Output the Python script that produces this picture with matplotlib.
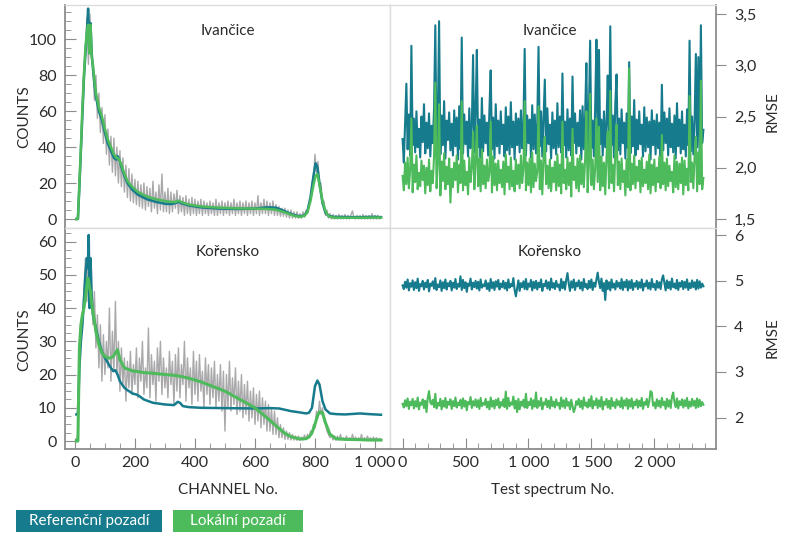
import numpy as np
import matplotlib
matplotlib.use("Agg")
import matplotlib.pyplot as plt
from matplotlib.ticker import MultipleLocator, AutoMinorLocator, FuncFormatter
from matplotlib.patches import Rectangle

plt.rcParams['font.family'] = ['Lato', 'DejaVu Sans']

TEAL = '#167b8c'
GREEN = '#4dba5b'
GRAY = '#a9a9ab'
SPINE = '#8c8c8c'
LIGHT = '#dcdcdc'
TXT = '#2b2b2b'

# ---------------- data ----------------
# Ivančice: raw spectrum, channels 5, 10, ..., 1020
IV_RAW = [0, 0.5, 22, 36, 60, 82, 90, 112, 86, 114, 92, 86, 66, 80, 56, 70, 48, 62, 42, 58,
          36, 50, 30, 46, 26, 45, 24, 40, 20, 38, 18, 34, 15, 30, 12, 28, 10, 25, 9, 22,
          8, 21, 7, 19, 6, 20, 5, 18, 7, 17, 4, 21, 6, 15, 3, 19, 5, 25, 4, 15,
          4, 17, 3, 15, 4, 14, 6, 16, 3, 13, 4, 12, 2, 13, 3, 11, 2, 12, 3, 11,
          2, 10, 3, 11, 2, 10, 3, 9, 2, 10, 3, 9, 2, 11, 2, 9, 3, 10, 2, 9,
          3, 10, 2, 9, 3, 11, 2, 9, 3, 10, 2, 9, 3, 10, 2, 9, 3, 10, 2, 9,
          3, 13, 2, 9, 3, 11, 3, 10, 2, 9, 3, 10, 2, 8, 2, 7, 1.5, 6, 1.5, 6,
          1, 5, 0.5, 5, 0.5, 4, 0.5, 4, 0.5, 3, 0.5, 4, 1, 5, 3, 9, 10, 20, 22, 36,
          26, 32, 18, 20, 8, 10, 2, 5, 0.5, 3, 0, 2.5, 0, 2, 0, 2.5, 0, 2, 0, 2.5,
          0, 2, 0, 2.5, 4.5, 0.5, 0, 2, 0, 2, 0, 2.5, 0, 2, 0, 2, 0, 3, 0, 2,
          0, 2, 0, 1.5]
IV_CH = [5, 10, 15, 20, 25, 30, 35, 40, 44, 48, 52, 56, 60, 65, 70, 80, 90, 100, 110, 120,
         130, 138, 142, 148, 155, 165, 175, 190, 210, 240, 270, 300, 320, 335, 345, 355, 380, 420, 480, 540,
         600, 640, 670, 690, 710, 730, 750, 765, 775, 785, 795, 802, 808, 815, 825, 835, 845, 860, 900, 950,
         1000, 1020]
IV_REF = [0, 0, 18, 38, 58, 78, 92, 104, 117, 100, 109, 92, 84, 75, 68, 60, 55, 48, 42, 38,
          34, 33, 35, 33, 29, 24, 20, 16.5, 13.5, 11, 9.5, 8.5, 8.3, 8.8, 9.6, 8.8, 7.5, 6.5, 5.8, 5.6,
          5.8, 6.5, 6.3, 5.0, 3.5, 2.2, 1.5, 2.0, 4.5, 12, 24, 31, 29, 20, 9, 3.5, 1.8, 1.2, 1.1, 1.0,
          1.2, 1.0]
IV_LOC = [0, 0, 20, 40, 62, 80, 95, 104, 108, 92, 108, 90, 86, 77, 70, 62, 57, 50, 44, 40,
          36, 34, 34, 33, 30, 25, 21, 18, 15, 12.5, 11, 10, 9.5, 9.5, 10.2, 9.4, 8.0, 7.0, 6.3, 5.9,
          5.8, 5.6, 5.2, 4.2, 3.0, 1.8, 1.2, 1.8, 3.8, 10, 19, 24, 25, 19, 10, 4.5, 1.5, 0.8, 0.7, 0.7,
          0.8, 0.8]

# Kořensko: raw spectrum, channels 5, 10, ..., 1020
KO_RAW = [0, 2, 28, 35, 38, 45, 55, 42, 58, 40, 52, 35, 45, 28, 38, 22, 35, 18, 32, 20,
          30, 22, 40, 18, 33, 21, 42, 20, 30, 15, 28, 17, 25, 12, 24, 16, 27, 14, 23, 17,
          28, 13, 25, 18, 30, 14, 22, 16, 34, 13, 26, 17, 24, 12, 28, 18, 30, 14, 25, 16,
          22, 13, 27, 17, 24, 11, 26, 15, 28, 13, 23, 17, 30, 12, 25, 16, 22, 11, 27, 14,
          24, 12, 26, 15, 21, 10, 25, 14, 23, 11, 22, 13, 24, 10, 20, 12, 23, 9, 21, 3,
          20, 10, 24, 9, 19, 11, 22, 8, 18, 9, 20, 7, 17, 8, 18, 6, 15, 7, 16, 5,
          14, 6, 15, 4, 13, 5, 12, 3, 11, 3, 10, 2, 9, 2, 7, 1, 5, 1, 4, 0.5,
          3, 0.5, 2.5, 0.3, 2, 0.3, 1.5, 0.2, 1.5, 0.2, 1.2, 0.3, 1.8, 0.5, 2, 1, 3, 2, 5, 4,
          9, 7, 12, 8, 10, 6, 5, 3, 2, 1, 2, 0.3, 1.5, 0.2, 1.5, 0.2, 2, 0.3, 1, 0.2,
          1.5, 0.2, 1, 0.3, 2, 0.2, 1.2, 0.2, 1, 0.3, 2, 0.2, 1, 0.2, 1.5, 0.2, 1, 0.3, 1.2, 0.2,
          1, 0.2, 0.8, 0.3]
KO_CH = [5, 10, 15, 20, 25, 30, 35, 40, 43, 46, 49, 52, 55, 60, 70, 80, 90, 100, 110, 120,
         128, 135, 142, 150, 165, 180, 195, 205, 215, 230, 260, 300, 330, 343, 350, 360, 380, 420, 500, 600,
         650, 680, 700, 720, 750, 770, 780, 790, 800, 808, 815, 825, 835, 850, 870, 900, 950, 980, 1020]
KO_REF = [8, 8, 22, 30, 35, 42, 50, 55, 52, 62, 40, 55, 45, 38, 34, 30, 27, 25, 23.5, 22,
          21, 21.3, 20, 18, 16, 15, 14.2, 14, 13.5, 12.5, 11.5, 11, 10.8, 11.8, 11.5, 10.5, 10.2, 10.0, 9.9, 9.8,
          9.9, 9.8, 9.4, 9.0, 8.6, 8.3, 8.5, 10, 16.5, 18.2, 17, 12, 9.5, 8.3, 8.1, 8.0, 8.3, 8.1, 7.9]
KO_LOC = [0, 0, 28, 35, 38, 40, 43, 47, 49, 48, 46, 45, 42, 39, 33, 29, 26.5, 25.5, 25, 25,
          25.5, 26.5, 27.5, 24.5, 22, 21.5, 21, 21, 20.8, 20.6, 20.4, 20, 19.8, 19.6, 19.5, 19.3, 18.9, 17.8, 15, 10,
          6.2, 3.8, 2.3, 1.3, 0.6, 0.7, 1.2, 2.5, 5, 7.5, 8.8, 8.5, 5.5, 2, 0.7, 0.5, 0.4, 0.3, 0.3]

# RMSE per test spectrum (every 10th test spectrum)
RMSE_IV_REF = [
    2.28, 2.05, 2.45, 2.82, 2.18, 2.52, 2.12, 3.19, 2.22, 2.48, 2.15, 2.55, 2.20, 2.38, 2.10, 2.50, 2.25, 2.62, 2.14, 2.44,
    2.19, 2.53, 2.11, 2.41, 2.24, 2.58, 3.39, 2.16, 2.47, 3.43, 2.13, 2.51, 2.22, 2.65, 2.09, 2.46, 2.27, 2.54, 2.17, 2.43,
    2.12, 2.56, 2.21, 2.49, 2.08, 2.60, 2.18, 3.27, 2.14, 2.52, 2.23, 2.45, 2.11, 2.58, 2.19, 2.40, 3.10, 2.15, 2.53, 3.15,
    2.20, 2.47, 2.10, 2.68, 2.16, 2.51, 2.24, 2.44, 2.12, 2.57, 2.95, 2.18, 2.49, 2.09, 2.62, 2.21, 2.46, 2.14, 2.55, 2.23,
    2.42, 2.11, 2.59, 2.17, 2.50, 2.13, 2.64, 2.20, 2.45, 2.08, 2.53, 2.22, 2.48, 2.15, 2.56, 2.19, 2.43, 3.16, 2.12, 2.51,
    2.24, 2.47, 2.10, 2.61, 2.18, 2.52, 2.14, 2.44, 3.18, 2.21, 2.55, 2.11, 2.49, 2.86, 2.16, 2.58, 2.23, 2.42, 2.09, 2.54,
    2.19, 2.46, 2.13, 2.63, 2.20, 2.50, 2.15, 2.92, 2.22, 2.45, 2.10, 2.57, 2.17, 2.48, 2.12, 2.89, 2.24, 2.53, 2.14, 2.44,
    2.21, 2.56, 2.08, 2.60, 2.18, 2.49, 3.02, 2.13, 2.52, 3.24, 2.19, 2.46, 2.11, 2.58, 3.25, 2.16, 3.15, 2.23, 2.47, 2.12,
    2.55, 2.20, 2.43, 2.90, 2.15, 3.38, 2.22, 2.51, 2.10, 2.62, 2.91, 2.17, 2.48, 2.13, 2.57, 2.24, 2.44, 2.09, 2.53, 2.19,
    3.03, 2.14, 2.50, 2.21, 2.66, 2.12, 2.47, 2.18, 2.55, 2.23, 2.42, 2.11, 2.59, 2.16, 2.49, 2.20, 2.45, 2.08, 2.56, 2.22,
    2.46, 2.13, 2.52, 2.19, 2.44, 2.10, 2.81, 2.17, 2.54, 2.24, 2.48, 2.12, 2.58, 2.20, 2.43, 2.15, 2.51, 2.09, 2.63, 2.21,
    2.47, 2.14, 2.55, 2.18, 2.42, 2.11, 2.57, 2.22, 3.24, 2.16, 2.50, 2.13, 2.46, 3.11, 2.20, 3.08, 2.12, 3.39, 2.24, 2.37]
RMSE_IV_LOC = [
    1.92, 1.78, 2.05, 1.84, 2.10, 1.80, 1.98, 2.48, 1.76, 2.03, 1.86, 2.12, 1.79, 1.95, 1.82, 2.07, 1.88, 2.02, 1.75, 2.00,
    1.83, 2.08, 1.77, 1.97, 1.85, 2.11, 2.83, 1.80, 2.04, 2.62, 1.73, 2.06, 1.87, 2.14, 1.79, 2.01, 1.84, 2.09, 1.66, 1.99,
    1.81, 2.05, 1.88, 2.12, 1.76, 2.03, 1.85, 2.65, 1.78, 2.07, 1.83, 1.96, 1.74, 2.10, 1.86, 2.00, 2.35, 1.79, 2.06, 2.41,
    1.82, 2.09, 1.77, 2.18, 1.84, 2.02, 1.80, 2.08, 1.87, 1.95, 2.45, 1.76, 2.11, 1.83, 2.04, 1.78, 2.07, 1.85, 1.98, 1.81,
    2.06, 1.74, 2.13, 1.86, 2.01, 1.79, 2.10, 1.82, 1.97, 1.77, 2.08, 1.84, 2.03, 1.80, 2.12, 1.85, 1.99, 2.65, 1.78, 2.05,
    1.83, 2.09, 1.76, 2.15, 1.81, 2.04, 1.87, 1.96, 2.60, 1.79, 2.07, 1.74, 2.11, 2.30, 1.84, 2.02, 1.80, 2.08, 1.77, 2.00,
    1.86, 2.06, 1.78, 2.13, 1.82, 2.03, 1.75, 2.45, 1.85, 1.98, 1.79, 2.10, 1.83, 2.05, 1.72, 2.38, 1.88, 2.01, 1.80, 2.09,
    1.77, 2.12, 1.84, 2.04, 1.81, 2.07, 2.55, 1.76, 2.02, 2.72, 1.83, 2.08, 1.79, 1.99, 2.48, 1.86, 2.40, 1.78, 2.11, 1.82,
    2.05, 1.74, 2.10, 2.35, 1.80, 2.75, 1.85, 2.03, 1.77, 2.14, 2.42, 1.83, 2.06, 1.79, 2.09, 1.86, 1.97, 1.73, 2.08, 1.81,
    2.97, 1.78, 2.04, 1.84, 2.12, 1.80, 2.01, 1.87, 2.07, 1.76, 2.10, 1.82, 1.98, 1.85, 2.06, 1.79, 2.13, 1.75, 2.03, 1.83,
    2.08, 1.77, 2.00, 1.86, 2.11, 1.80, 2.32, 1.84, 2.05, 1.78, 2.09, 1.82, 2.02, 1.87, 1.96, 1.76, 2.12, 1.81, 2.06, 1.79,
    2.04, 1.85, 2.10, 1.74, 2.07, 1.83, 1.99, 1.78, 2.70, 1.86, 2.05, 1.80, 2.11, 2.30, 1.77, 2.15, 1.84, 2.85, 1.79, 1.90]
RMSE_KO_REF = [
    4.90, 4.82, 4.98, 4.85, 5.03, 4.79, 4.95, 4.87, 5.01, 4.80, 4.97, 4.84, 5.05, 4.78, 4.93, 4.88, 5.00, 4.81, 4.96, 4.86,
    5.02, 4.77, 4.94, 4.89, 4.99, 4.83, 5.06, 4.80, 4.92, 4.86, 5.01, 4.78, 4.97, 4.84, 5.03, 4.81, 4.95, 4.88, 5.00, 4.79,
    4.96, 4.85, 5.04, 4.82, 4.93, 4.87, 5.10, 4.80, 5.02, 4.84, 4.97, 4.76, 4.94, 4.89, 5.05, 4.81, 4.96, 4.86, 5.00, 4.83,
    4.98, 4.79, 5.03, 4.85, 4.92, 4.88, 5.01, 4.82, 4.95, 4.78, 5.04, 4.84, 4.97, 4.80, 4.99, 4.87, 5.02, 4.81, 4.94, 4.86,
    5.00, 4.83, 4.96, 4.79, 5.03, 4.85, 4.93, 4.88, 5.06, 4.80, 4.66, 4.84, 5.01, 4.78, 4.95, 4.86, 4.99, 4.82, 5.04, 4.81,
    4.94, 4.87, 5.02, 4.79, 4.98, 4.84, 5.00, 4.81, 4.96, 4.86, 5.03, 4.78, 4.93, 4.88, 5.01, 4.83, 4.97, 4.80, 5.05, 4.85,
    4.95, 4.82, 5.00, 4.87, 4.92, 4.79, 5.04, 4.84, 4.98, 4.81, 5.02, 5.17, 4.94, 4.78, 4.99, 4.85, 5.03, 4.80, 4.96, 4.88,
    5.01, 4.83, 4.97, 4.79, 5.04, 4.86, 4.93, 4.82, 5.00, 4.85, 5.03, 4.80, 4.96, 4.87, 5.02, 5.18, 4.98, 4.84, 5.05, 4.78,
    4.95, 4.58, 5.01, 4.82, 4.97, 4.79, 5.03, 4.85, 4.94, 4.81, 5.00, 4.87, 4.96, 4.83, 5.04, 4.80, 4.98, 4.86, 5.02, 4.79,
    4.99, 4.84, 5.02, 4.80, 4.95, 4.87, 5.00, 4.82, 4.97, 4.85, 5.03, 4.79, 4.94, 4.88, 5.01, 4.83, 4.96, 4.81, 5.04, 4.86,
    4.93, 4.80, 5.00, 4.85, 4.97, 4.82, 5.03, 5.12, 4.95, 4.79, 5.01, 4.84, 4.98, 4.81, 5.05, 4.86, 4.94, 4.83, 5.02, 4.80,
    4.96, 4.87, 5.00, 4.82, 4.98, 4.85, 5.03, 4.80, 4.95, 4.84, 5.01, 4.86, 4.97, 4.81, 5.02, 4.83, 4.99, 4.85, 4.94, 4.88]
RMSE_KO_LOC = [
    2.30, 2.22, 2.38, 2.25, 2.42, 2.19, 2.35, 2.27, 2.41, 2.20, 2.36, 2.24, 2.44, 2.18, 2.33, 2.28, 2.40, 2.21, 2.37, 2.12,
    2.43, 2.58, 2.34, 2.29, 2.39, 2.23, 2.52, 2.20, 2.32, 2.26, 2.41, 2.18, 2.37, 2.24, 2.43, 2.21, 2.35, 2.28, 2.40, 2.19,
    2.36, 2.25, 2.44, 2.22, 2.33, 2.27, 2.39, 2.20, 2.42, 2.24, 2.37, 2.16, 2.34, 2.29, 2.45, 2.21, 2.36, 2.26, 2.40, 2.23,
    2.38, 2.19, 2.43, 2.25, 2.32, 2.28, 2.41, 2.22, 2.35, 2.18, 2.44, 2.24, 2.37, 2.20, 2.39, 2.27, 2.42, 2.21, 2.34, 2.26,
    2.40, 2.23, 2.57, 2.19, 2.43, 2.25, 2.33, 2.28, 2.46, 2.20, 2.37, 2.12, 2.41, 2.18, 2.35, 2.26, 2.39, 2.22, 2.52, 2.21,
    2.34, 2.27, 2.42, 2.19, 2.38, 2.24, 2.55, 2.21, 2.36, 2.26, 2.43, 2.18, 2.33, 2.28, 2.41, 2.23, 2.37, 2.20, 2.45, 2.25,
    2.35, 2.22, 2.40, 2.27, 2.32, 2.19, 2.44, 2.24, 2.38, 2.21, 2.42, 2.26, 2.34, 2.18, 2.39, 2.25, 2.12, 2.20, 2.36, 2.28,
    2.41, 2.23, 2.37, 2.19, 2.44, 2.26, 2.33, 2.22, 2.40, 2.25, 2.47, 2.20, 2.36, 2.27, 2.42, 2.21, 2.38, 2.24, 2.45, 2.18,
    2.35, 2.28, 2.41, 2.22, 2.37, 2.19, 2.43, 2.25, 2.34, 2.21, 2.40, 2.27, 2.36, 2.23, 2.44, 2.20, 2.38, 2.26, 2.42, 2.19,
    2.39, 2.24, 2.42, 2.20, 2.35, 2.27, 2.40, 2.22, 2.37, 2.25, 2.43, 2.19, 2.34, 2.28, 2.41, 2.23, 2.36, 2.58, 2.55, 2.26,
    2.33, 2.20, 2.40, 2.25, 2.37, 2.22, 2.43, 2.27, 2.35, 2.19, 2.41, 2.24, 2.38, 2.21, 2.45, 2.55, 2.34, 2.23, 2.42, 2.20,
    2.36, 2.27, 2.40, 2.22, 2.38, 2.25, 2.43, 2.20, 2.35, 2.24, 2.41, 2.26, 2.37, 2.21, 2.42, 2.23, 2.39, 2.25, 2.34, 2.28]

TITLES = ['Ivančice', 'Kořensko']
LEGEND = ['Referenční pozadí', 'Lokální pozadí']

raw_ch_iv = 5 + 5 * np.arange(len(IV_RAW))
raw_ch_ko = 5 + 5 * np.arange(len(KO_RAW))
test_no = 10 * np.arange(len(RMSE_IV_REF))

# ---------------- figure ----------------
W, H = 792, 536
fig = plt.figure(figsize=(W / 100, H / 100), dpi=100)

def fx(px):
    return px / W

def fy(py):
    return 1 - py / H

ax_tl = fig.add_axes([fx(65), fy(228), fx(390) - fx(65), fy(5) - fy(228)])
ax_bl = fig.add_axes([fx(65), fy(449), fx(390) - fx(65), fy(228) - fy(449)])
ax_tr = fig.add_axes([fx(390), fy(228), fx(716) - fx(390), fy(5) - fy(228)])
ax_br = fig.add_axes([fx(390), fy(449), fx(716) - fx(390), fy(228) - fy(449)])

for ax in (ax_tl, ax_bl, ax_tr, ax_br):
    for s in ax.spines.values():
        s.set_color(LIGHT)
        s.set_linewidth(1.0)
    ax.tick_params(which='both', colors=SPINE, labelcolor=TXT, labelsize=11.5)

# left spectra
ax_tl.plot(raw_ch_iv, IV_RAW, color=GRAY, lw=1.0, zorder=1)
ax_tl.plot(IV_CH, IV_REF, color=TEAL, lw=1.8, zorder=2)
ax_tl.plot(IV_CH, IV_LOC, color=GREEN, lw=1.8, zorder=3)
ax_bl.plot(raw_ch_ko, KO_RAW, color=GRAY, lw=1.0, zorder=1)
ax_bl.plot(KO_CH, KO_REF, color=TEAL, lw=1.8, zorder=2)
ax_bl.plot(KO_CH, KO_LOC, color=GREEN, lw=2.2, zorder=3)

# right RMSE
ax_tr.plot(test_no, RMSE_IV_REF, color=TEAL, lw=1.5, zorder=2)
ax_tr.plot(test_no, RMSE_IV_LOC, color=GREEN, lw=1.5, zorder=3)
ax_br.plot(test_no, RMSE_KO_REF, color=TEAL, lw=1.5, zorder=2)
ax_br.plot(test_no, RMSE_KO_LOC, color=GREEN, lw=1.5, zorder=3)

ax_tl.set_xlim(-33, 1050); ax_bl.set_xlim(-33, 1050)
ax_tl.set_ylim(-5, 119); ax_bl.set_ylim(-2.4, 64.1)
ax_tr.set_xlim(-100, 2490); ax_br.set_xlim(-100, 2490)
ax_tr.set_ylim(1.412, 3.588); ax_br.set_ylim(1.31, 6.16)

def thousands(v, pos):
    return f"{int(round(v)):,}".replace(',', ' ')

def comma1(v, pos):
    return f"{v:.1f}".replace('.', ',')

# top-left
ax_tl.spines['left'].set_color(SPINE); ax_tl.spines['left'].set_linewidth(1.3)
ax_tl.yaxis.set_major_locator(MultipleLocator(20))
ax_tl.yaxis.set_minor_locator(AutoMinorLocator(4))
ax_tl.tick_params(axis='y', which='both', direction='in', left=True, right=False, pad=6)
ax_tl.tick_params(axis='y', which='major', length=8)
ax_tl.tick_params(axis='y', which='minor', length=4)
ax_tl.tick_params(axis='x', which='both', bottom=False, labelbottom=False)

# bottom-left
ax_bl.spines['left'].set_color(SPINE); ax_bl.spines['left'].set_linewidth(1.3)
ax_bl.spines['bottom'].set_color(SPINE); ax_bl.spines['bottom'].set_linewidth(1.3)
ax_bl.yaxis.set_major_locator(MultipleLocator(10))
ax_bl.yaxis.set_minor_locator(AutoMinorLocator(4))
ax_bl.xaxis.set_major_locator(MultipleLocator(200))
ax_bl.xaxis.set_minor_locator(AutoMinorLocator(4))
ax_bl.xaxis.set_major_formatter(FuncFormatter(thousands))
ax_bl.tick_params(axis='both', which='both', direction='in')
ax_bl.tick_params(axis='y', pad=6)
ax_bl.tick_params(axis='x', pad=5)
ax_bl.tick_params(which='major', length=8)
ax_bl.tick_params(which='minor', length=4)

# top-right
ax_tr.spines['right'].set_color(SPINE); ax_tr.spines['right'].set_linewidth(1.3)
ax_tr.yaxis.tick_right()
ax_tr.yaxis.set_major_locator(MultipleLocator(0.5))
ax_tr.yaxis.set_major_formatter(FuncFormatter(comma1))
ax_tr.tick_params(axis='y', which='major', direction='out', length=7, pad=6)
ax_tr.tick_params(axis='x', which='both', bottom=False, labelbottom=False)

# bottom-right
ax_br.spines['right'].set_color(SPINE); ax_br.spines['right'].set_linewidth(1.3)
ax_br.spines['bottom'].set_color(SPINE); ax_br.spines['bottom'].set_linewidth(1.3)
ax_br.yaxis.tick_right()
ax_br.yaxis.set_major_locator(MultipleLocator(1))
ax_br.tick_params(axis='y', which='major', direction='out', length=7, pad=6)
ax_br.xaxis.set_major_locator(MultipleLocator(500))
ax_br.xaxis.set_minor_locator(AutoMinorLocator(5))
ax_br.xaxis.set_major_formatter(FuncFormatter(thousands))
ax_br.tick_params(axis='x', which='both', direction='in', pad=5)
ax_br.tick_params(axis='x', which='major', length=8)
ax_br.tick_params(axis='x', which='minor', length=4)

# panel titles
ax_tl.text(0.50, 0.885, TITLES[0], transform=ax_tl.transAxes, ha='center', va='center', fontsize=11, color=TXT)
ax_tr.text(0.49, 0.885, TITLES[0], transform=ax_tr.transAxes, ha='center', va='center', fontsize=11, color=TXT)
ax_bl.text(0.50, 0.893, TITLES[1], transform=ax_bl.transAxes, ha='center', va='center', fontsize=11, color=TXT)
ax_br.text(0.49, 0.893, TITLES[1], transform=ax_br.transAxes, ha='center', va='center', fontsize=11, color=TXT)

# axis labels
fig.text(fx(24), fy(117), 'COUNTS', rotation=90, ha='center', va='center', fontsize=11, color=TXT)
fig.text(fx(24), fy(340), 'COUNTS', rotation=90, ha='center', va='center', fontsize=11, color=TXT)
fig.text(fx(773), fy(112), 'RMSE', rotation=90, ha='center', va='center', fontsize=11, color=TXT)
fig.text(fx(773), fy(338), 'RMSE', rotation=90, ha='center', va='center', fontsize=11, color=TXT)
fig.text(fx(228), fy(490), 'CHANNEL No.', ha='center', va='center', fontsize=11, color=TXT)
fig.text(fx(553), fy(490), 'Test spectrum No.', ha='center', va='center', fontsize=11, color=TXT)

# legend boxes
for (x0, x1), col, lab in [((16, 162), TEAL, LEGEND[0]), ((173, 303), GREEN, LEGEND[1])]:
    fig.add_artist(Rectangle((fx(x0), fy(532)), fx(x1) - fx(x0), fy(510) - fy(532),
                             transform=fig.transFigure, facecolor=col, edgecolor='none'))
    fig.text(fx((x0 + x1) / 2), fy(521), lab, ha='center', va='center', fontsize=11, color='white')

fig.savefig('out.png', dpi=100)
